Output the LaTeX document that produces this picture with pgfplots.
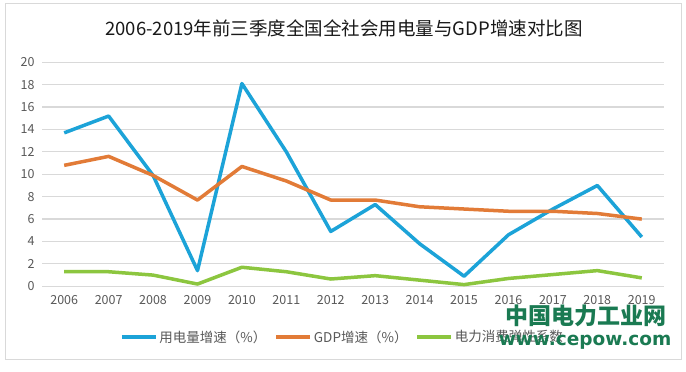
\documentclass[border=0pt]{standalone}
\usepackage{fontspec}
\setmainfont{Noto Sans CJK SC}
\newfontfamily\wmfont{DejaVu Sans}
\usepackage{pgfplots}
\pgfplotsset{compat=1.18}
\definecolor{cblue}{HTML}{1CA3D8}
\definecolor{corange}{HTML}{E27B37}
\definecolor{cgreen}{HTML}{8CC63F}
\definecolor{cgrid}{HTML}{D9D9D9}
\definecolor{ctext}{HTML}{595959}
\definecolor{cwm}{HTML}{1A7A52}
\begin{document}
\begin{tikzpicture}[x=1pt,y=1pt]
\fill[white] (0,0) rectangle (686,372);
\draw[cgrid,line width=1pt] (5,12) rectangle (681,368);
\node[font=\fontsize{18.5}{20}\selectfont,text=black!90] at (344,344) {2006-2019年前三季度全国全社会用电量与GDP增速对比图};
\begin{axis}[
  at={(42pt,85.7pt)}, anchor=south west,
  scale only axis, width=622pt, height=224pt,
  xmin=2005.5, xmax=2019.5, ymin=0, ymax=20,
  xtick={2006,...,2019}, ytick={0,2,...,20},
  axis line style={draw=none},
  major tick length=0pt,
  ymajorgrids, grid style={cgrid,line width=1.2pt},
  tick label style={font=\fontsize{12.5}{14}\selectfont,text=ctext},
  /pgf/number format/assume math mode=true,
  /pgf/number format/1000 sep={},
  xticklabel style={yshift=-6pt},
  yticklabel style={xshift=-4pt},
  legend columns=3,
  legend style={draw=none,fill=none,at={(300.5pt,-50.7pt)},anchor=center,
    font=\fontsize{13.5}{15}\selectfont,text=ctext,
    /tikz/every odd column/.append style={column sep=0pt},
    /tikz/every even column/.append style={column sep=6pt},
    nodes={inner xsep=2pt}},
  legend image code/.code={\draw[#1,line width=3.5pt] (0pt,0pt) -- (34pt,0pt);},
  every axis plot/.append style={line width=3.5pt,no markers,line join=round},
]
\addplot[cblue] coordinates {(2006,13.7)(2007,15.2)(2008,9.9)(2009,1.4)(2010,18.1)(2011,12.0)(2012,4.9)(2013,7.3)(2014,3.8)(2015,0.9)(2016,4.6)(2017,6.9)(2018,9.0)(2019,4.4)};
\addlegendentry{用电量增速（\%）}
\addplot[corange] coordinates {(2006,10.8)(2007,11.6)(2008,9.9)(2009,7.7)(2010,10.7)(2011,9.4)(2012,7.7)(2013,7.7)(2014,7.1)(2015,6.9)(2016,6.7)(2017,6.7)(2018,6.5)(2019,6.0)};
\addlegendentry{GDP增速（\%）}
\addplot[cgreen] coordinates {(2006,1.3)(2007,1.3)(2008,1.0)(2009,0.2)(2010,1.7)(2011,1.3)(2012,0.65)(2013,0.95)(2014,0.55)(2015,0.15)(2016,0.7)(2017,1.05)(2018,1.4)(2019,0.75)};
\addlegendentry{电力消费弹性系数}
\end{axis}
\node[font=\fontsize{23}{25}\selectfont\bfseries,text=cwm] at (586,56) {中国电力工业网};
\node[font=\wmfont\fontsize{18.5}{20}\selectfont\bfseries,text=cwm] at (585,30) {www.cepow.com};
\end{tikzpicture}
\end{document}
